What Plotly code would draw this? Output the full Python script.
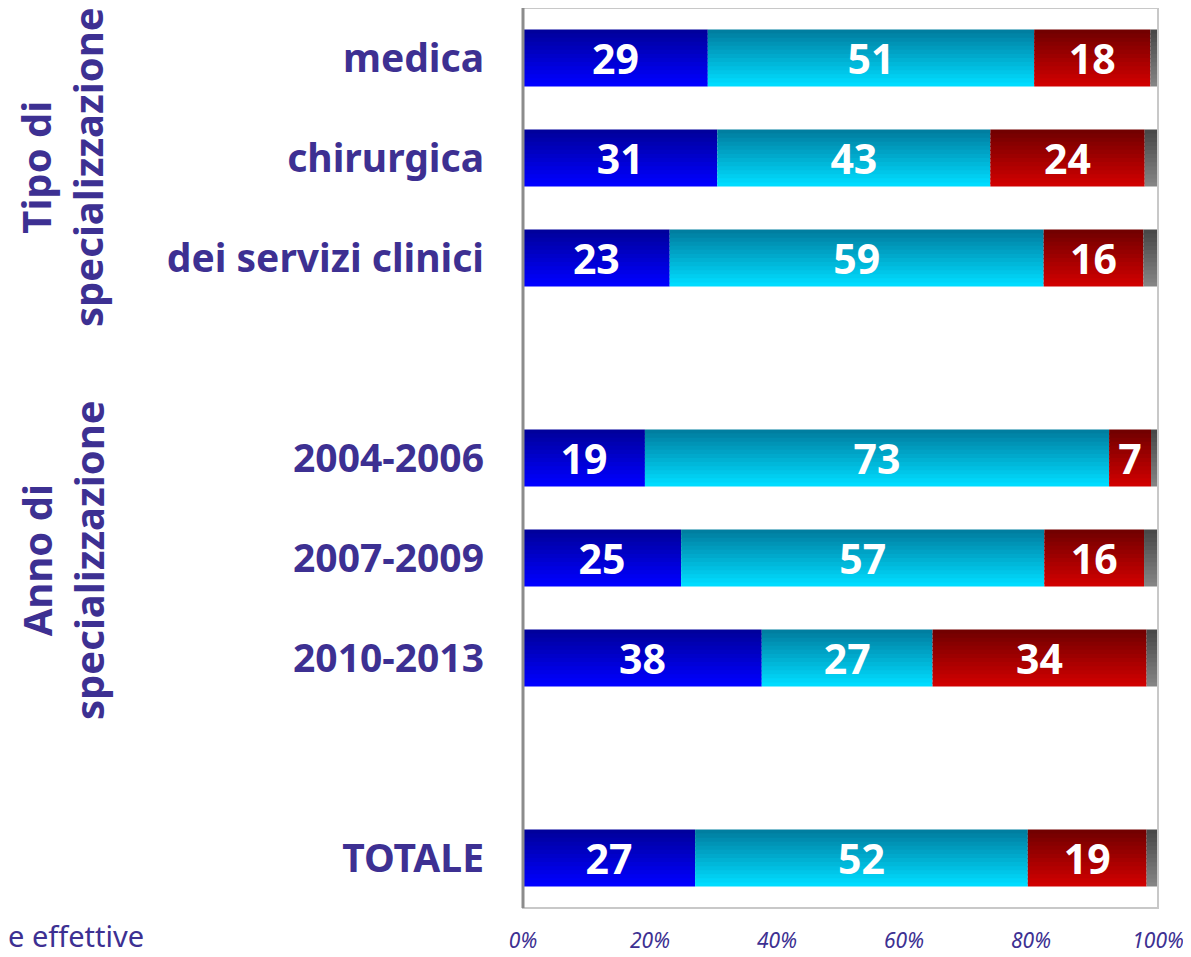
import numpy as np
import plotly.graph_objects as go

categories = ["medica", "chirurgica", "dei servizi clinici",
              "2004-2006", "2007-2009", "2010-2013", "TOTALE"]
axis_order = ["medica", "chirurgica", "dei servizi clinici", " ",
              "2004-2006", "2007-2009", "2010-2013", "  ", "TOTALE"]
blue = [29.1, 30.6, 23.1, 19.2, 24.9, 37.6, 27.1]
cyan = [51.4, 43.0, 58.9, 73.1, 57.2, 26.9, 52.4]
red = [18.3, 24.3, 15.7, 6.6, 15.7, 33.7, 18.7]
grey = [1.2, 2.1, 2.3, 1.1, 2.2, 1.8, 1.8]
x_ticks = [0, 20, 40, 60, 80, 100]
x_ticktext = ["0%", "20%", "40%", "60%", "80%", "100%"]

TXT = "#3d3092"
series = [
    (blue, (0x00, 0x00, 0x9c), (0x00, 0x00, 0xff), True),
    (cyan, (0x00, 0x7e, 0xa0), (0x00, 0xdc, 0xff), True),
    (red, (0x72, 0x00, 0x00), (0xd0, 0x00, 0x00), True),
    (grey, (0x48, 0x48, 0x48), (0x84, 0x84, 0x84), False),
]

# page body has an 8px margin; plot area spans page px x 523..1158, y 8..908
PX0, PW, PY1, PH = 523, 635, 908, 900


def px(x):
    return (x - PX0) / PW


def py(y):
    return (PY1 - y) / PH


W = 0.57
N = 14
fig = go.Figure()
base = np.zeros(len(categories))
for vals, c0, c1, show in series:
    v = np.array(vals)
    for k in range(N):
        t = k / (N - 1)
        col = "rgb(%d,%d,%d)" % tuple(int(round(a + (b - a) * t)) for a, b in zip(c0, c1))
        wk = W / N + (0.012 if k < N - 1 else 0.0)
        fig.add_trace(go.Bar(
            y=categories, x=v, base=base, orientation="h",
            width=wk, offset=-W / 2 + k * W / N,
            marker=dict(color=col, line=dict(width=0)),
            showlegend=False, hoverinfo="skip"))
    if show:
        fig.add_trace(go.Bar(
            y=categories, x=v, base=base, orientation="h",
            width=W, offset=-W / 2,
            marker=dict(color="rgba(0,0,0,0)", line=dict(width=0)),
            text=[f"{x:.0f}" for x in v], texttemplate="%{text}",
            textposition="inside", insidetextanchor="middle", textangle=0,
            textfont=dict(color="white", size=41, family="Noto Sans", weight="bold"),
            constraintext="none",
            showlegend=False, hoverinfo="skip"))
    base = base + v

fig.update_layout(
    width=1183, height=949,
    barmode="overlay",
    margin=dict(l=515, r=33, t=0, b=49, autoexpand=False),
    paper_bgcolor="white", plot_bgcolor="white",
    font=dict(family="Noto Sans", color=TXT),
    xaxis=dict(range=[0, 100], tickvals=x_ticks, ticktext=x_ticktext,
               showgrid=False, zeroline=False, showline=False, automargin=False,
               ticks="", ticklabelstandoff=18,
               tickfont=dict(size=21, color=TXT, style="italic")),
    yaxis=dict(type="category", categoryorder="array", categoryarray=axis_order,
               range=[8.5, -0.5], showgrid=False, zeroline=False, automargin=False,
               showline=False, ticks="", ticklabelstandoff=38,
               tickfont=dict(size=39, color=TXT, weight="bold")),
    shapes=[
        dict(type="rect", xref="paper", yref="paper", x0=0, x1=1, y0=0, y1=1,
             line=dict(color="#c8c8c8", width=2), layer="above"),
        dict(type="line", xref="paper", yref="paper", x0=0, x1=0, y0=0, y1=1,
             line=dict(color="#8c8c8c", width=3), layer="above"),
    ],
    annotations=[
        dict(text="Tipo di<br>specializzazione", textangle=-90,
             xref="paper", yref="paper", x=px(62), y=py(167),
             xanchor="center", yanchor="middle",
             showarrow=False, align="center",
             font=dict(size=40, color=TXT, weight="bold")),
        dict(text="Anno di<br>specializzazione", textangle=-90,
             xref="paper", yref="paper", x=px(62), y=py(560),
             xanchor="center", yanchor="middle",
             showarrow=False, align="center",
             font=dict(size=40, color=TXT, weight="bold")),
        dict(text="e effettive", xref="paper", yref="paper",
             x=px(6), y=py(957),
             xanchor="left", yanchor="bottom", showarrow=False,
             font=dict(size=29, color=TXT)),
    ],
)

fig.write_html("out.html")
